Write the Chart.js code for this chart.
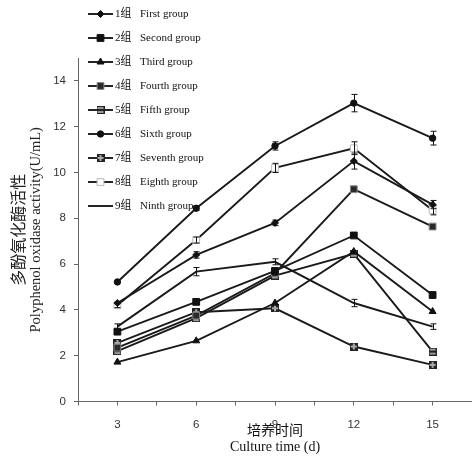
<!DOCTYPE html>
<html><head><meta charset="utf-8">
<script src="https://cdn.jsdelivr.net/npm/chart.js@4.4.1/dist/chart.umd.min.js"></script>
<style>html,body{margin:0;padding:0;background:#fff;overflow:hidden}</style>
</head><body>
<canvas id="c" width="472" height="457"></canvas>
<script>
// ---- data ----
const days = [3, 6, 9, 12, 15];
const groupLabels = ['1组','2组','3组','4组','5组','6组','7组','8组','9组'];
const groupLabelsEn = ['First group','Second group','Third group','Fourth group','Fifth group','Sixth group','Seventh group','Eighth group','Ninth group'];
const g1 = [4.30, 6.40, 7.80, 10.50, 8.60];
const g2 = [3.05, 4.35, 5.70, 7.25, 4.65];
const g3 = [1.72, 2.65, 4.30, 6.55, 3.93];
const g4 = [2.35, 3.75, 5.60, 9.27, 7.64];
const g5 = [2.20, 3.64, 5.50, 6.45, 2.18];
const g6 = [5.22, 8.44, 11.16, 13.03, 11.50];
const g7 = [2.56, 3.90, 4.07, 2.40, 1.60];
const g8 = [4.20, 7.05, 10.20, 11.06, 8.35];
const g9 = [3.27, 5.67, 6.10, 4.30, 3.27];
const g1Err = [0, 0.14, 0.12, 0.35, 0.18];
const g6Err = [0, 0.10, 0.18, 0.38, 0.30];
const g8Err = [0.10, 0.13, 0.20, 0.28, 0.20];
const g9Err = [0.12, 0.18, 0.13, 0.16, 0.12];
const yTicks = [0, 2, 4, 6, 8, 10, 12, 14];
const xTickLabels = [3, 6, 9, 12, 15];

const series = [g1, g2, g3, g4, g5, g6, g7, g8, g9];
const errs = [g1Err, null, null, null, null, g6Err, null, g8Err, g9Err];

// square-with-plus marker for group 7
function plusSquare() {
  const c = document.createElement('canvas');
  c.width = 8; c.height = 8;
  const x = c.getContext('2d');
  x.fillStyle = '#222'; x.fillRect(0, 0, 8, 8);
  x.fillStyle = '#aaa'; x.fillRect(3, 1, 2, 6); x.fillRect(1, 3, 6, 2);
  return c;
}
// square with horizontal bar for group 5
function barSquare() {
  const c = document.createElement('canvas');
  c.width = 8; c.height = 8;
  const x = c.getContext('2d');
  x.fillStyle = '#222'; x.fillRect(0, 0, 8, 8);
  x.fillStyle = '#999'; x.fillRect(1, 1, 6, 6);
  x.fillStyle = '#222'; x.fillRect(1, 3, 6, 2);
  return c;
}

const styles = [
  {pointStyle:'rectRot', pointRadius:3.5, bg:'#111', bc:'#111'},
  {pointStyle:'rect', pointRadius:4.8, bg:'#111', bc:'#111'},
  {pointStyle:'triangle', pointRadius:4, bg:'#111', bc:'#111'},
  {pointStyle:'rect', pointRadius:4.8, bg:'#2a2a2a', bc:'#888'},
  {pointStyle:barSquare(), pointRadius:4, bg:'#777', bc:'#222'},
  {pointStyle:'circle', pointRadius:3.2, bg:'#111', bc:'#111'},
  {pointStyle:plusSquare(), pointRadius:4, bg:'#555', bc:'#333'},
  {pointStyle:'rect', pointRadius:4.8, bg:'#fff', bc:'#bbb'},
  {pointStyle:'circle', pointRadius:0, bg:'#111', bc:'#111'}
];

const datasets = series.map((s, i) => ({
  label: groupLabels[i] + ' ' + groupLabelsEn[i],
  data: days.map((d, j) => ({x: d, y: s[j]})),
  errors: errs[i],
  borderColor: '#1a1a1a',
  borderWidth: 1.9,
  backgroundColor: styles[i].bg,
  pointBackgroundColor: styles[i].bg,
  pointBorderColor: styles[i].bc,
  pointBorderWidth: 1,
  pointStyle: styles[i].pointStyle,
  pointRadius: styles[i].pointRadius,
  tension: 0,
  fill: false
}));

const errorBars = {
  id: 'errorBars',
  afterDatasetsDraw(chart) {
    const ctx = chart.ctx, xs = chart.scales.x, ys = chart.scales.y;
    ctx.save();
    ctx.strokeStyle = '#111';
    ctx.lineWidth = 1;
    chart.data.datasets.forEach(ds => {
      if (!ds.errors) return;
      ds.data.forEach((p, j) => {
        const e = ds.errors[j];
        if (!e) return;
        const x = Math.round(xs.getPixelForValue(p.x)) + 0.5;
        const yt = ys.getPixelForValue(p.y + e), yb = ys.getPixelForValue(p.y - e);
        ctx.beginPath();
        ctx.moveTo(x, yt); ctx.lineTo(x, yb);
        ctx.moveTo(x - 3, yt); ctx.lineTo(x + 3, yt);
        ctx.moveTo(x - 3, yb); ctx.lineTo(x + 3, yb);
        ctx.stroke();
      });
    });
    ctx.restore();
  }
};

const customLegend = {
  id: 'customLegend',
  afterDraw(chart) {
    const ctx = chart.ctx;
    chart.data.datasets.forEach((ds, i) => {
      const y = 14 + i * 24;
      ctx.save();
      ctx.strokeStyle = ds.borderColor;
      ctx.lineWidth = ds.borderWidth;
      ctx.beginPath(); ctx.moveTo(88, y); ctx.lineTo(113, y); ctx.stroke();
      if (ds.pointRadius > 0) {
        ctx.fillStyle = ds.pointBackgroundColor;
        ctx.strokeStyle = ds.pointBorderColor;
        ctx.lineWidth = 1;
        Chart.helpers.drawPoint(ctx, {pointStyle: ds.pointStyle, radius: ds.pointRadius, rotation: 0, borderWidth: 1}, 100.5, y);
      }
      ctx.fillStyle = '#111';
      ctx.textBaseline = 'middle';
      ctx.font = '11px "Liberation Serif", "Noto Sans CJK SC"';
      ctx.fillText(groupLabels[i], 115, y);
      ctx.fillText(groupLabelsEn[i], 140, y);
      ctx.restore();
    });
  }
};

const RIGHT_PAD = -2;
const padFix = s => { s.paddingLeft = 0; s.paddingRight = RIGHT_PAD; };

new Chart(document.getElementById('c'), {
  type: 'line',
  data: { datasets },
  plugins: [errorBars, customLegend],
  options: {
    responsive: false,
    animation: false,
    devicePixelRatio: 1,
    layout: { autoPadding: false, padding: { top: 58, left: 0, right: RIGHT_PAD, bottom: 0 } },
    plugins: { legend: { display: false }, tooltip: { enabled: false } },
    scales: {
      x: {
        type: 'linear', min: 1.5, max: 16.5,
        afterBuildTicks: s => { s.ticks = []; for (let v = 1.5; v <= 16.5 + 1e-9; v += 1.5) s.ticks.push({value: v}); },
        ticks: {
          autoSkip: false, maxRotation: 0, padding: 12, color: '#333',
          font: { family: '"Liberation Sans", Arial', size: 11.5 },
          callback: v => (xTickLabels.includes(v) ? String(v) : '')
        },
        grid: { display: true, drawOnChartArea: false, drawTicks: true, tickLength: 4, color: '#666' },
        border: { display: true, color: '#666', width: 1 },
        title: {
          display: true, text: ['培养时间', 'Culture time (d)'], color: '#111',
          font: { family: '"Liberation Serif", "Noto Sans CJK SC"', size: 14, lineHeight: 1.15 },
          padding: { top: 0, bottom: 2 }
        },
        afterFit: s => { s.height = 55.5; padFix(s); }
      },
      y: {
        type: 'linear', position: 'left', min: 0, max: 15, weight: 0,
        afterBuildTicks: s => { s.ticks = yTicks.map(v => ({value: v})); },
        ticks: { padding: 8, color: '#333', font: { family: '"Liberation Sans", Arial', size: 11.5 } },
        grid: { display: true, drawOnChartArea: false, drawTicks: true, tickLength: 4, color: '#666' },
        border: { display: true, color: '#666', width: 1 },
        title: {
          display: true, text: 'Polyphenol oxidase activity(U/mL)', color: '#222',
          font: { family: '"Liberation Serif"', size: 14.5 },
          padding: { top: 1, bottom: 0 }
        },
        afterFit: s => { s.width = 52; padFix(s); }
      },
      yZh: {
        type: 'linear', position: 'left', weight: 1, display: true,
        grid: { display: false }, border: { display: false }, ticks: { display: false },
        title: {
          display: true, text: '多酚氧化酶活性', color: '#222',
          font: { family: '"Noto Sans CJK SC"', size: 16 },
          padding: { top: 8, bottom: 0 }
        },
        afterFit: s => { s.width = 26; padFix(s); }
      }
    }
  }
});
</script>
</body></html>
